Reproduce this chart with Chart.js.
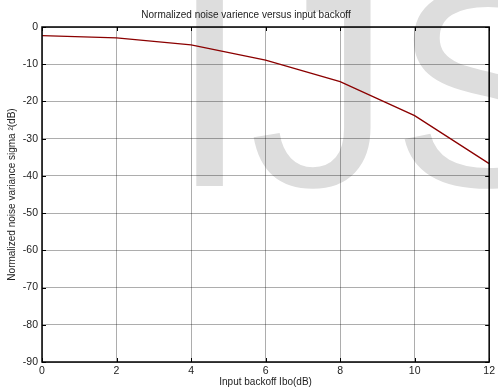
<!DOCTYPE html>
<html>
<head>
<meta charset="utf-8">
<script src="https://cdn.jsdelivr.net/npm/chart.js@4"></script>
<style>
  body { margin: 0; background: #fff; }
  #wrap { width: 498px; height: 389px; }
</style>
</head>
<body>
<div id="wrap"><canvas id="myChart" width="498" height="389"></canvas></div>
<script>
// data
let backoff = [0, 2, 4, 6, 8, 10, 12];
let noiseVar = [-2.3, -2.9, -4.8, -8.9, -14.7, -23.8, -36.7];
let xTicks = [0, 2, 4, 6, 8, 10, 12];
let yTicks = [0, -10, -20, -30, -40, -50, -60, -70, -80, -90];

let font = 'Liberation Sans, Arial, sans-serif';

// big grey watermark behind the plot
let watermark = {
    id: 'watermark',
    beforeDraw: (chart) => {
        let ctx = chart.ctx;
        ctx.save();
        ctx.fillStyle = 'rgb(221,221,221)';
        ctx.font = '285px ' + font;
        ctx.textBaseline = 'alphabetic';
        ctx.fillText('IJS', 170, 186);
        ctx.restore();
    }
};

// black box + inward tick marks like matlab
let boxTicks = {
    id: 'boxTicks',
    afterDraw: (chart) => {
        let ctx = chart.ctx;
        let a = chart.chartArea;
        let xs = chart.scales.x, ys = chart.scales.y;
        ctx.save();
        ctx.strokeStyle = '#000';
        ctx.lineWidth = 1;
        ctx.beginPath();
        xTicks.forEach(v => {
            let px = Math.round(xs.getPixelForValue(v)) + 0.5;
            ctx.moveTo(px, a.bottom); ctx.lineTo(px, a.bottom - 4);
            ctx.moveTo(px, a.top); ctx.lineTo(px, a.top + 4);
        });
        yTicks.forEach(v => {
            let py = Math.round(ys.getPixelForValue(v)) + 0.5;
            ctx.moveTo(a.left, py); ctx.lineTo(a.left + 4, py);
            ctx.moveTo(a.right, py); ctx.lineTo(a.right - 4, py);
        });
        ctx.stroke();
        ctx.lineWidth = 1.5;
        ctx.strokeRect(a.left, a.top, a.right - a.left, a.bottom - a.top);
        ctx.restore();
    }
};

let newChart = () => {
    let ctx = document.getElementById('myChart').getContext('2d');
    return new Chart(ctx, {
        type: 'line',
        data: {
            datasets: [{
                data: backoff.map((x, i) => ({x: x, y: noiseVar[i]})),
                borderColor: '#8b0000',
                borderWidth: 1.3,
                pointRadius: 0,
                tension: 0,
                fill: false
            }]
        },
        options: {
            responsive: false,
            animation: false,
            layout: { padding: { left: 0, right: 6, top: 0, bottom: 1 } },
            plugins: {
                legend: { display: false },
                tooltip: { enabled: false },
                title: {
                    display: true,
                    text: 'Normalized noise varience versus input backoff',
                    color: '#222',
                    font: { family: font, size: 10, weight: 'normal' },
                    padding: { top: 9, bottom: 6 }
                }
            },
            scales: {
                x: {
                    type: 'linear',
                    min: 0, max: 12,
                    afterBuildTicks: (s) => { s.ticks = xTicks.map(v => ({value: v})); },
                    afterFit: (s) => { s.height = 26; },
                    grid: { color: 'rgba(0,0,0,0.32)', drawTicks: false },
                    border: { display: false },
                    ticks: { color: '#222', font: { family: font, size: 10.5 }, padding: 3, maxRotation: 0 },
                    title: {
                        display: true, text: 'Input backoff Ibo(dB)', color: '#222',
                        font: { family: font, size: 10 }, padding: { top: 0, bottom: 0 }
                    }
                },
                y: {
                    type: 'linear',
                    min: -90, max: 0,
                    afterBuildTicks: (s) => { s.ticks = yTicks.map(v => ({value: v})); },
                    afterFit: (s) => { s.width = 42; },
                    grid: { color: 'rgba(0,0,0,0.32)', drawTicks: false },
                    border: { display: false },
                    ticks: { color: '#222', font: { family: font, size: 10.5 }, padding: 4 },
                    title: {
                        display: true, text: 'Normalized noise variance sigma \u00B2(dB)', color: '#222',
                        font: { family: font, size: 10 }, padding: { top: 6, bottom: 0 }
                    }
                }
            }
        },
        plugins: [watermark, boxTicks]
    });
};

newChart();
</script>
</body>
</html>
